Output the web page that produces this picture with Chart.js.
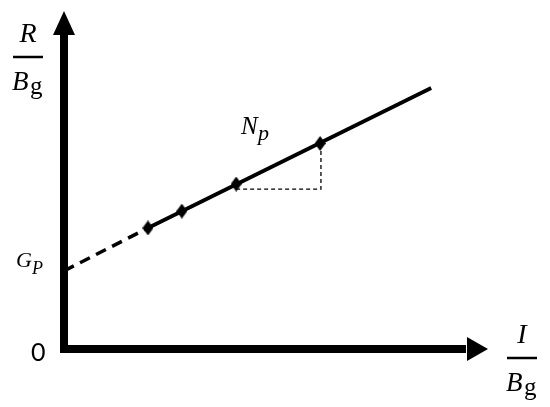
<!DOCTYPE html>
<html>
<head>
<meta charset="utf-8">
<script src="https://cdn.jsdelivr.net/npm/chart.js@4/dist/chart.umd.min.js"></script>
<style>
  html, body { margin: 0; padding: 0; background: #fff; }
  #wrap { position: relative; width: 550px; height: 407px; }
</style>
</head>
<body>
<div id="wrap"><canvas id="chart"></canvas></div>
<script>
// Readings in plot units (0..100 on both axes)
const interceptPoint = [{ x: 0, y: 23.1 }, { x: 19.8, y: 35.8 }];
const fitLine = [{ x: 19.8, y: 35.8 }, { x: 86.6, y: 77.2 }];
const measuredX = [19.8, 27.8, 40.6, 60.4];
const measuredY = [35.8, 40.8, 48.8, 60.8];
const slopeRun = [{ x: 40.6, y: 47.3 }, { x: 60.6, y: 47.3 }, { x: 60.6, y: 60.8 }];

const SERIF = '"Liberation Serif", "Times New Roman", serif';

// Diamond marker drawn once on a small canvas
function makeDiamond(w, h) {
    const c = document.createElement('canvas');
    c.width = w; c.height = h;
    const g = c.getContext('2d');
    g.fillStyle = '#000';
    g.beginPath();
    g.moveTo(w / 2, 0);
    g.lineTo(w, h / 2);
    g.lineTo(w / 2, h);
    g.lineTo(0, h / 2);
    g.closePath();
    g.fill();
    return c;
}

// Thick axes with arrow heads plus the math labels
const axesPlugin = {
    id: 'arrowAxes',
    beforeDatasetsDraw(chart) {
        const { ctx, chartArea, scales } = chart;
        const x0 = scales.x.getPixelForValue(0);
        const y0 = scales.y.getPixelForValue(0);
        const right = chartArea.right;
        const top = chartArea.top;
        ctx.save();
        ctx.fillStyle = '#000';
        // y axis
        ctx.fillRect(x0 - 4, top + 22, 8, y0 - top - 18);
        ctx.beginPath();
        ctx.moveTo(x0 - 11, top + 24);
        ctx.lineTo(x0 + 11, top + 24);
        ctx.lineTo(x0, top);
        ctx.closePath();
        ctx.fill();
        // x axis
        ctx.fillRect(x0 - 4, y0 - 4, right - x0 - 18, 8);
        ctx.beginPath();
        ctx.moveTo(right - 21, y0 - 12);
        ctx.lineTo(right - 21, y0 + 12);
        ctx.lineTo(right, y0);
        ctx.closePath();
        ctx.fill();
        ctx.restore();
    },
    afterDraw(chart) {
        const { ctx, scales } = chart;
        const x0 = scales.x.getPixelForValue(0);
        const y0 = scales.y.getPixelForValue(0);
        const yG = scales.y.getPixelForValue(interceptPoint[0].y);
        ctx.save();
        ctx.fillStyle = '#000';
        ctx.strokeStyle = '#000';
        ctx.textBaseline = 'alphabetic';

        function fraction(cx, topBase, num) {
            ctx.textAlign = 'center';
            ctx.font = 'italic 28px ' + SERIF;
            ctx.fillText(num, cx, topBase);
            ctx.lineWidth = 2.5;
            ctx.beginPath();
            ctx.moveTo(cx - 15, topBase + 15);
            ctx.lineTo(cx + 15, topBase + 15);
            ctx.stroke();
            ctx.textAlign = 'left';
            ctx.font = 'italic 27px ' + SERIF;
            ctx.fillText('B', cx - 16, topBase + 48);
            ctx.font = '25px ' + SERIF;
            ctx.fillText('g', cx + 2, topBase + 52);
        }
        fraction(28, 42, 'R');
        fraction(522, 343, 'I');

        // intercept label
        ctx.textAlign = 'left';
        ctx.font = 'italic 22px ' + SERIF;
        ctx.fillText('G', 16, yG - 4);
        ctx.font = 'italic 18px ' + SERIF;
        ctx.fillText('P', 32, yG + 3);

        // origin
        ctx.font = '25px Lato, "Noto Sans", sans-serif';
        ctx.fillText('0', x0 - 33, y0 + 12);

        // slope label
        ctx.font = 'italic 25px ' + SERIF;
        ctx.fillText('N', 241, 134);
        ctx.font = 'italic 22px ' + SERIF;
        ctx.fillText('p', 258, 140);
        ctx.restore();
    }
};

new Chart(document.getElementById('chart'), {
    type: 'scatter',
    data: {
        datasets: [
            {
                data: interceptPoint,
                showLine: true,
                borderColor: '#000',
                borderWidth: 3.5,
                borderDash: [11, 7],
                pointRadius: 0
            },
            {
                data: fitLine,
                showLine: true,
                borderColor: '#000',
                borderWidth: 3.8,
                pointRadius: 0
            },
            {
                data: slopeRun,
                showLine: true,
                borderColor: '#000',
                borderWidth: 1.3,
                borderDash: [4, 3],
                pointRadius: 0
            },
            {
                data: measuredX.map((x, i) => ({ x: x, y: measuredY[i] })),
                showLine: false,
                pointStyle: makeDiamond(11, 15),
                pointRadius: 7
            }
        ]
    },
    options: {
        responsive: true,
        maintainAspectRatio: false,
        animation: false,
        layout: { padding: { left: 64, right: 62, top: 11, bottom: 58 } },
        scales: {
            x: { type: 'linear', min: 0, max: 100, display: false },
            y: { type: 'linear', min: 0, max: 100, display: false }
        },
        plugins: {
            legend: { display: false },
            tooltip: { enabled: false }
        }
    },
    plugins: [axesPlugin]
});
</script>
</body>
</html>
